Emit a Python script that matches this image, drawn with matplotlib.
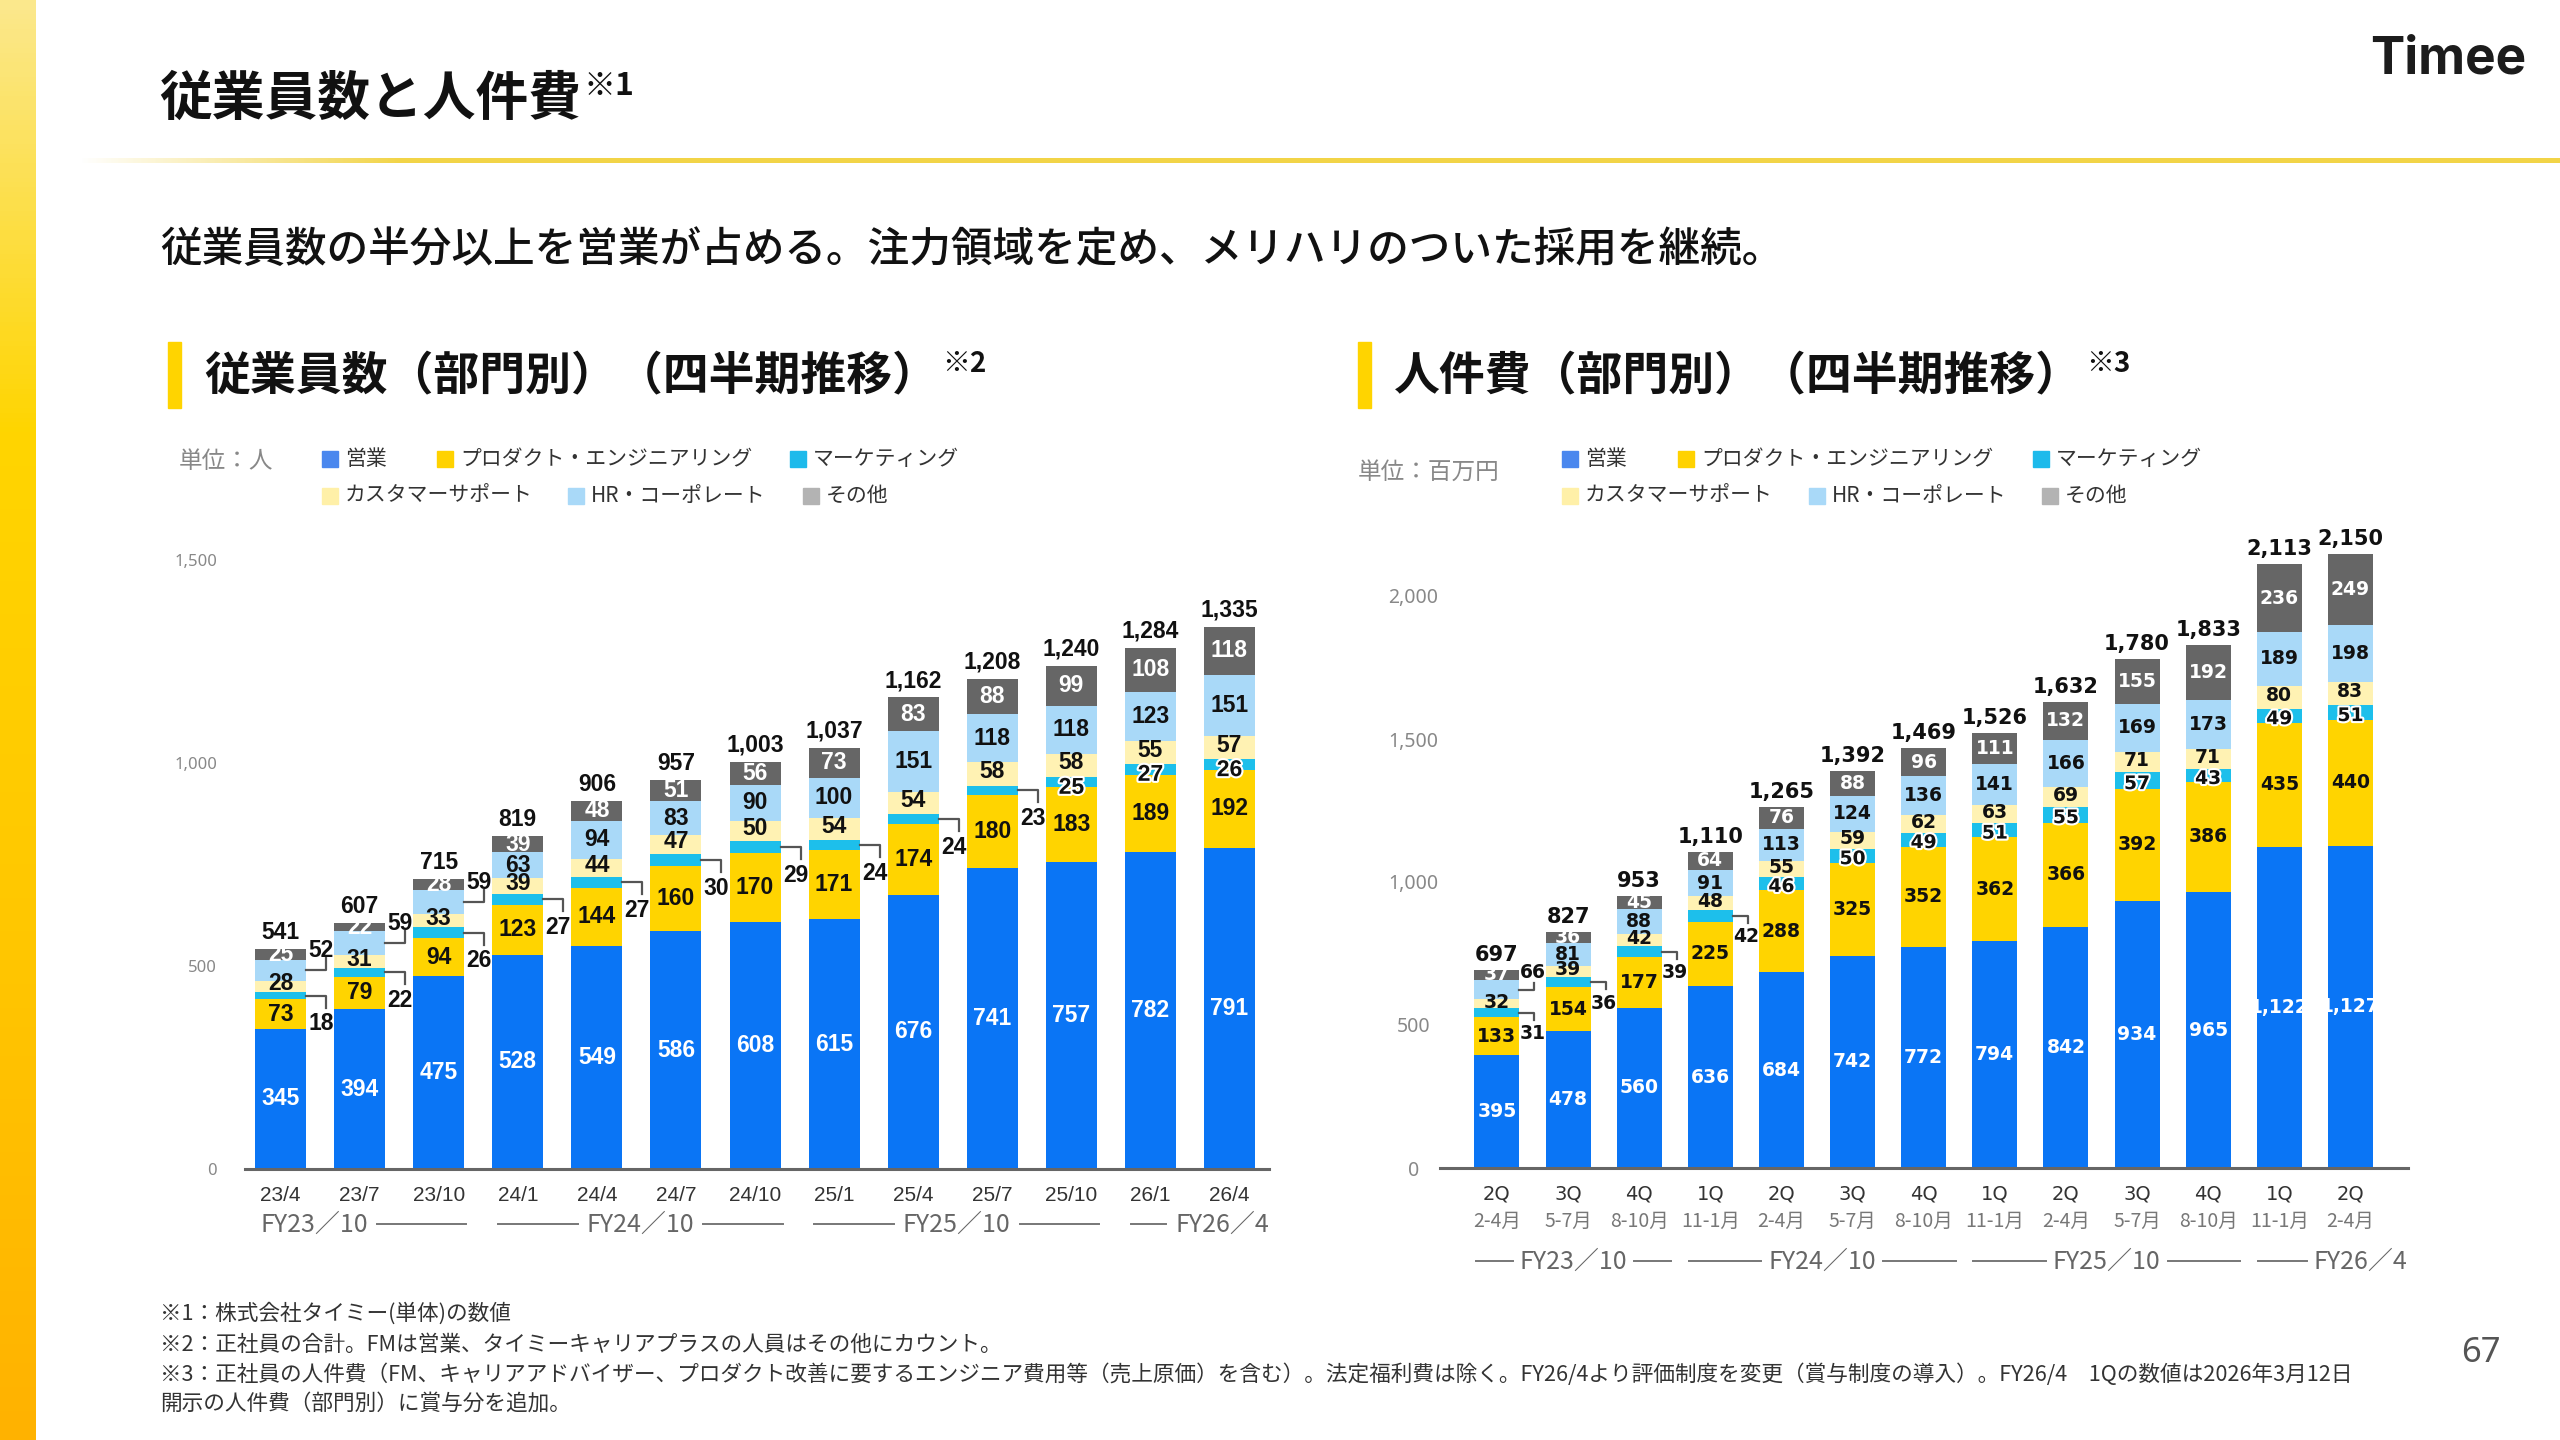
import numpy as np
import matplotlib
matplotlib.use("Agg")
import matplotlib.pyplot as plt
import matplotlib.patheffects as pe
from matplotlib.patches import Rectangle
from matplotlib.colors import LinearSegmentedColormap, to_rgb
from matplotlib import transforms as mtrans

# ---------------- data ----------------
emp_periods = ["23/4", "23/7", "23/10", "24/1", "24/4", "24/7", "24/10",
               "25/1", "25/4", "25/7", "25/10", "26/1", "26/4"]
emp_sales = [345, 394, 475, 528, 549, 586, 608, 615, 676, 741, 757, 782, 791]
emp_product = [73, 79, 94, 123, 144, 160, 170, 171, 174, 180, 183, 189, 192]
emp_marketing = [18, 22, 26, 27, 27, 30, 29, 24, 24, 23, 25, 27, 26]
emp_cs = [28, 31, 33, 39, 44, 47, 50, 54, 54, 58, 58, 55, 57]
emp_hr = [52, 59, 59, 63, 94, 83, 90, 100, 151, 118, 118, 123, 151]
emp_other = [25, 22, 28, 39, 48, 51, 56, 73, 83, 88, 99, 108, 118]
emp_total = [541, 607, 715, 819, 906, 957, 1003, 1037, 1162, 1208, 1240, 1284, 1335]
emp_fy = ["FY23／10", "FY24／10", "FY25／10", "FY26／4"]
emp_fy_count = [3, 4, 4, 2]
emp_yticks = [0, 500, 1000, 1500]

cost_quarters = ["2Q", "3Q", "4Q", "1Q", "2Q", "3Q", "4Q", "1Q", "2Q", "3Q", "4Q", "1Q", "2Q"]
cost_months = ["2-4月", "5-7月", "8-10月", "11-1月", "2-4月", "5-7月", "8-10月",
               "11-1月", "2-4月", "5-7月", "8-10月", "11-1月", "2-4月"]
cost_sales = [395, 478, 560, 636, 684, 742, 772, 794, 842, 934, 965, 1122, 1127]
cost_product = [133, 154, 177, 225, 288, 325, 352, 362, 366, 392, 386, 435, 440]
cost_marketing = [31, 36, 39, 42, 46, 50, 49, 51, 55, 57, 43, 49, 51]
cost_cs = [32, 39, 42, 48, 55, 59, 62, 63, 69, 71, 71, 80, 83]
cost_hr = [66, 81, 88, 91, 113, 124, 136, 141, 166, 169, 173, 189, 198]
cost_other = [37, 36, 45, 64, 76, 88, 96, 111, 132, 155, 192, 236, 249]
cost_total = [697, 827, 953, 1110, 1265, 1392, 1469, 1526, 1632, 1780, 1833, 2113, 2150]
cost_fy = ["FY23／10", "FY24／10", "FY25／10", "FY26／4"]
cost_fy_count = [3, 4, 4, 2]
cost_yticks = [0, 500, 1000, 1500, 2000]

dept_names = ["営業", "プロダクト・エンジニアリング", "マーケティング",
              "カスタマーサポート", "HR・コーポレート", "その他"]

footnotes = [
    "※1：株式会社タイミー(単体)の数値",
    "※2：正社員の合計。FMは営業、タイミーキャリアプラスの人員はその他にカウント。",
    "※3：正社員の人件費（FM、キャリアアドバイザー、プロダクト改善に要するエンジニア費用等（売上原価）を含む）。法定福利費は除く。FY26/4より評価制度を変更（賞与制度の導入）。FY26/4　1Qの数値は2026年3月12日",
    "開示の人件費（部門別）に賞与分を追加。",
]

# ---------------- style ----------------
BAR_COLORS = ["#0A75F5", "#FFD400", "#1DBFEB", "#FFF2B3", "#A9D9F8", "#666666"]
LEG_COLORS = ["#4A87EE", "#FFD200", "#1DBAEB", "#FFF0A8", "#A9D9F8", "#B3B3B3"]
LABEL_COLORS = ["white", "#111111", "#111111", "#111111", "#111111", "white"]
JP = ["Noto Sans CJK JP", "DejaVu Sans"]

W, H = 2560, 1440
fig = plt.figure(figsize=(25.6, 14.4), dpi=100)
fig.patch.set_facecolor("white")


def fx(x):
    return x / W


def fy(y):
    return 1 - y / H


renderer = fig.canvas.get_renderer()

# ---------------- decorations ----------------
ax_s = fig.add_axes([0, 0, 36 / W, 1])
cmap = LinearSegmentedColormap.from_list(
    "stripe", [(0, "#FBE88C"), (0.3, "#FFD500"), (0.65, "#FFC700"), (1, "#FFB200")])
ax_s.imshow(np.linspace(0, 1, 300).reshape(-1, 1), aspect="auto", cmap=cmap,
            extent=[0, 1, 0, 1], origin="upper")
ax_s.axis("off")

ax_l = fig.add_axes([fx(80), fy(163), (W - 80) / W, 5 / H])
ncol = W - 80
rgba = np.zeros((1, ncol, 4))
rgba[..., :3] = to_rgb("#F2D447")
rgba[0, :, 3] = np.clip(np.arange(ncol) / 320.0, 0, 1)
ax_l.imshow(rgba, aspect="auto", extent=[0, 1, 0, 1])
ax_l.axis("off")

t = fig.text(fx(159), fy(99), "従業員数と人件費", family=JP, fontsize=38,
             fontweight="bold", color="#111111", ha="left", va="center")
ext = t.get_window_extent(renderer)
fig.text(ext.x1 / W + 3 / W, fy(86), "※1", family=JP, fontsize=23,
         fontweight="bold", color="#111111", ha="left", va="center")

fig.text(fx(2370), fy(60), "Timee", family=["Inter", "DejaVu Sans"], fontsize=37,
         fontweight="bold", color="#1C1C1C", ha="left", va="center")

fig.text(fx(160), fy(250),
         "従業員数の半分以上を営業が占める。注力領域を定め、メリハリのついた採用を継続。",
         family=JP, fontsize=30, fontweight="medium", color="#111111",
         ha="left", va="center")

for bx, title, note in [(168, "従業員数（部門別）（四半期推移）", "※2"),
                        (1358, "人件費（部門別）（四半期推移）", "※3")]:
    fig.patches.append(Rectangle((fx(bx), fy(408)), 13 / W, 66 / H,
                                 transform=fig.transFigure, color="#FFD400"))
    tt = fig.text(fx(bx + 36), fy(376), title, family=JP, fontsize=33,
                  fontweight="bold", color="#111111", ha="left", va="center")
    e = tt.get_window_extent(renderer)
    fig.text(e.x1 / W + 4 / W, fy(364), note, family=JP, fontsize=20,
             fontweight="bold", color="#111111", ha="left", va="center")

fig.text(fx(179), fy(462), "単位：人", family=JP, fontsize=17, color="#888888",
         ha="left", va="center")
fig.text(fx(1358), fy(472), "単位：百万円", family=JP, fontsize=17, color="#888888",
         ha="left", va="center")

legend_left_x = [322, 437, 790, 322, 568, 803]
legend_right_x = [1562, 1678, 2033, 1562, 1809, 2042]
legend_rows = [459, 459, 459, 496, 496, 496]
for xs in (legend_left_x, legend_right_x):
    for k, name in enumerate(dept_names):
        x0, yc = xs[k], legend_rows[k]
        fig.patches.append(Rectangle((fx(x0), fy(yc + 8)), 16 / W, 16 / H,
                                     transform=fig.transFigure, color=LEG_COLORS[k]))
        fig.text(fx(x0 + 23), fy(yc), name, family=JP, fontsize=15, color="#333333",
                 ha="left", va="center")

for yy, txt in zip([1314, 1345, 1375, 1404], footnotes):
    fig.text(fx(160), fy(yy), txt, family=JP, fontsize=15.6, color="#333333",
             ha="left", va="center")

fig.text(fx(2481), fy(1353), "67", family=["Noto Sans", "DejaVu Sans"], fontsize=25,
         color="#555555", ha="center", va="center")


# ---------------- chart helpers ----------------
def px_per_unit(ax):
    bb = ax.get_position()
    xr = ax.get_xlim()
    yr = ax.get_ylim()
    return bb.width * W / (xr[1] - xr[0]), bb.height * H / (yr[1] - yr[0])


def draw_stack(ax, segs, totals, width, outside, font, fs_in, fs_tot, geom, mk_shift):
    n = len(segs[0])
    x = np.arange(n)
    sx, sy = px_per_unit(ax)
    bottom = np.zeros(n)
    bottoms = []
    for k, vals in enumerate(segs):
        vals = np.asarray(vals, dtype=float)
        ax.bar(x, vals, width=width, bottom=bottom, color=BAR_COLORS[k],
               edgecolor="none", zorder=2, clip_on=False)
        bottoms.append(bottom.copy())
        bottom = bottom + vals
    out_map = {}
    for seg, idxs, direction in outside:
        for i in idxs:
            out_map[(seg, i)] = direction
    leg_h, leg_v, lab_dx, dy_down, dy_up = geom
    for k, vals in enumerate(segs):
        for i, v in enumerate(vals):
            ymid = bottoms[k][i] + v / 2
            if (k, i) in out_map:
                d = out_map[(k, i)]
                xr = x[i] + width / 2
                if d == "down":
                    y2 = ymid - leg_v / sy
                    ty = ymid - dy_down / sy
                else:
                    y2 = ymid + leg_v / sy
                    ty = ymid + dy_up / sy
                ax.plot([xr, xr + leg_h / sx, xr + leg_h / sx], [ymid, ymid, y2],
                        color="#555555", lw=1.6, clip_on=False, zorder=3)
                ax.text(xr + lab_dx / sx, ty, f"{v:,}", ha="center", va="center",
                        family=font, fontsize=fs_in, fontweight="bold",
                        color="#111111", zorder=4, clip_on=False)
            else:
                effects = None
                ty = ymid
                if k == 2:
                    effects = [pe.withStroke(linewidth=3, foreground="white")]
                    ty = ymid - mk_shift / sy
                elif k == 3:
                    ty = ymid + mk_shift * 0.5 / sy
                ax.text(x[i], ty, f"{v:,}", ha="center", va="center",
                        family=font, fontsize=fs_in, fontweight="bold",
                        color=LABEL_COLORS[k], zorder=4 + (k == 2), path_effects=effects,
                        clip_on=False)
    for i, tv in enumerate(totals):
        ax.text(x[i], bottom[i] + 5 / sy, f"{tv:,}", ha="center", va="bottom",
                family=font, fontsize=fs_tot, fontweight="bold", color="#111111",
                zorder=4, clip_on=False)
    return x


def style_axes(ax, yticks, ylab_fs, ylab_pad, center_labels):
    for s in ["top", "right", "left"]:
        ax.spines[s].set_visible(False)
    ax.spines["bottom"].set_color("#666666")
    ax.spines["bottom"].set_linewidth(2.2)
    ax.spines["bottom"].set_zorder(5)
    ax.set_yticks(yticks)
    ax.set_yticklabels([f"{v:,}" for v in yticks], family=["Noto Sans", "DejaVu Sans"],
                       fontsize=ylab_fs, color="#888888")
    ax.tick_params(axis="y", length=0, pad=ylab_pad)
    if center_labels:
        for lab in ax.get_yticklabels():
            lab.set_ha("center")
    ax.set_facecolor("none")


def draw_fy(ax, labels, counts, ypx, pad_l, pad_r, last_pad, modes, fs, gap_px):
    trans = mtrans.blended_transform_factory(ax.transData, fig.transFigure)
    sx, _ = px_per_unit(ax)
    start = 0
    for lab, cnt, mode in zip(labels, counts, modes):
        a = start - pad_l
        b = start + cnt - 1 + (last_pad if mode == "right" else pad_r)
        tt = ax.text(0, fy(ypx), lab, transform=trans, family=JP, fontsize=fs,
                     color="#666666", va="center", ha="left", clip_on=False)
        tw = tt.get_window_extent(renderer).width / sx
        gap = gap_px / sx
        segs = []
        if mode == "left":
            tt.set_x(a)
            segs.append((a + tw + gap, b))
        elif mode == "right":
            tt.set_x(b - tw)
            segs.append((a, b - tw - gap))
        else:
            c = (a + b) / 2
            tt.set_x(c - tw / 2)
            segs.append((a, c - tw / 2 - gap))
            segs.append((c + tw / 2 + gap, b))
        for s0, s1 in segs:
            ax.plot([s0, s1], [fy(ypx) + 1 / H] * 2, transform=trans, color="#777777",
                    lw=1.4, clip_on=False)
        start += cnt


# ---------------- left chart: employees ----------------
ax1 = fig.add_axes([fx(245), fy(1169), (1269 - 245) / W, (1169 - 560) / H])
ax1.set_xlim(-0.45, 12.5)
ax1.set_ylim(0, 1500)
style_axes(ax1, emp_yticks, 12, 20, False)
emp_segs = [emp_sales, emp_product, emp_marketing, emp_cs, emp_hr, emp_other]
emp_outside = [(2, [0, 1, 2, 3, 4, 5, 6, 7, 8, 9], "down"), (4, [0, 1, 2], "up")]
x1 = draw_stack(ax1, emp_segs, emp_total, 0.645, emp_outside,
                ["Liberation Sans", "DejaVu Sans"], 16.5, 16.5, (20, 12, 15, 28, 20), 5)
ax1.set_xticks(x1)
ax1.set_xticklabels(emp_periods, family=["Liberation Sans", "DejaVu Sans"], fontsize=15,
                    color="#333333")
ax1.tick_params(axis="x", length=0, pad=12)
draw_fy(ax1, emp_fy, emp_fy_count, 1225, 0.25, 0.35, 0.5,
        ["left", "center", "center", "right"], 18, 9)

# ---------------- right chart: personnel cost ----------------
ax2 = fig.add_axes([fx(1440), fy(1168), (2408 - 1440) / W, (1168 - 596) / H])
ax2.set_xlim(-0.80, 12.81)
ax2.set_ylim(0, 2000)
style_axes(ax2, cost_yticks, 14, 19, True)
cost_segs = [cost_sales, cost_product, cost_marketing, cost_cs, cost_hr, cost_other]
cost_outside = [(2, [0, 1, 2, 3], "down"), (4, [0], "up")]
x2 = draw_stack(ax2, cost_segs, cost_total, 0.633, cost_outside,
                ["DejaVu Sans"], 13.5, 15, (15, 7, 13, 21, 17), 3)
ax2.set_xticks(x2)
ax2.set_xticklabels(cost_quarters, family=["DejaVu Sans"], fontsize=14,
                    color="#333333")
ax2.tick_params(axis="x", length=0, pad=12)
trans2 = mtrans.blended_transform_factory(ax2.transData, fig.transFigure)
for i, m in enumerate(cost_months):
    ax2.text(x2[i], fy(1221), m, transform=trans2, family=JP, fontsize=14,
             color="#777777", ha="center", va="center", clip_on=False)
draw_fy(ax2, cost_fy, cost_fy_count, 1262, 0.3, 0.45, 0.8,
        ["center", "center", "center", "right"], 18, 7)

fig.savefig("out.png", dpi=100, facecolor="white")
